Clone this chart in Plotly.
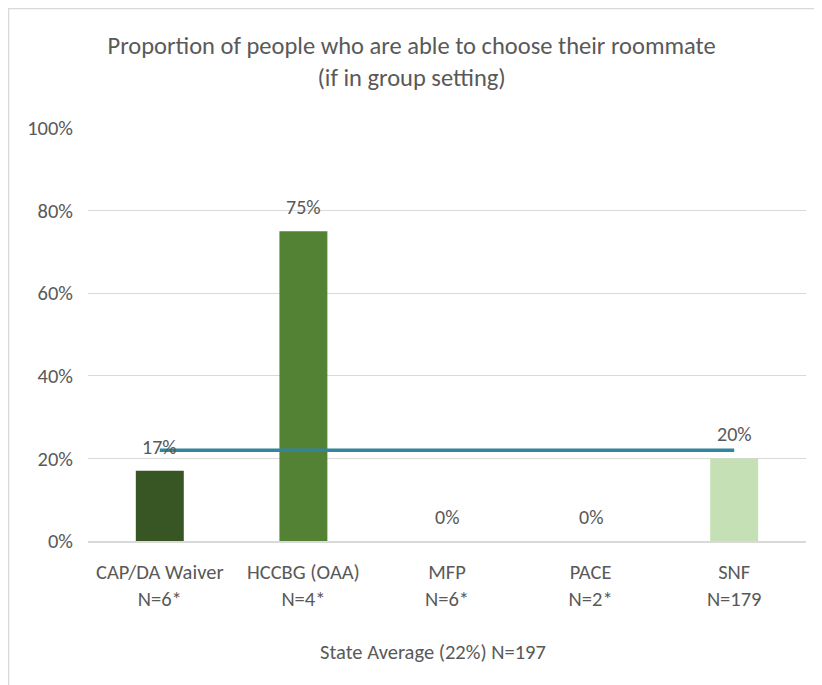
import plotly.graph_objects as go

categories = ["CAP/DA Waiver<br>N=6*", "HCCBG (OAA)<br>N=4*", "MFP<br>N=6*", "PACE<br>N=2*", "SNF<br>N=179"]
values = [17, 75, 0, 0, 20]
bar_colors = ["#375623", "#548235", "#70AD47", "#A9D18E", "#C5E0B4"]
state_avg = [22, 22, 22, 22, 22]
avg_label = "State Average (22%) N=197"
title_text = "Proportion of people who are able to choose their roommate<br>(if in group setting)"
y_ticks = [0, 20, 40, 60, 80, 100]

FONT = "Carlito, Calibri, Lato, sans-serif"
GREY = "#595959"

fig = go.Figure()
fig.add_trace(go.Bar(
    x=categories, y=values, marker=dict(color=bar_colors, line=dict(width=0)),
    showlegend=False, hoverinfo="skip",
))
fig.add_trace(go.Scatter(
    x=categories, y=state_avg, mode="lines", name=avg_label,
    line=dict(color="#31859C", width=3.5), showlegend=False,
))

for c, v in zip(categories, values):
    fig.add_annotation(x=c, y=v, text=f"{v}%", showarrow=False, yshift=24,
                       yanchor="middle", font=dict(size=20, color=GREY, family=FONT))

fig.add_annotation(x=0.4805, y=-0.2688, xref="paper", yref="paper", text=avg_label,
                   showarrow=False, xanchor="center", yanchor="middle",
                   font=dict(size=20.5, color=GREY, family=FONT))

# chart border
fig.add_shape(type="rect", xref="paper", yref="paper",
              x0=-0.1107, x1=1.1, y0=-0.5, y1=1.2893,
              line=dict(color="#D9D9D9", width=1.5), layer="below")

fig.update_layout(
    width=822, height=685,
    margin=dict(l=80, r=24, t=120, b=152),
    paper_bgcolor="white", plot_bgcolor="white",
    bargap=0.666,
    title=dict(text=title_text, x=0.491, xref="container", xanchor="center",
               y=1 - 46 / 685, yref="container", yanchor="middle",
               font=dict(size=24.5, color=GREY, family=FONT)),
    font=dict(family=FONT, color=GREY, size=20),
    xaxis=dict(showgrid=False, showline=True, linecolor="#D9D9D9", linewidth=1.5,
               tickfont=dict(size=20.5, color=GREY), ticks="", ticklabelstandoff=12,
               fixedrange=True),
    yaxis=dict(range=[0, 100], tickvals=y_ticks, ticktext=[f"{t}%" for t in y_ticks],
               showgrid=True, gridcolor="#D9D9D9", gridwidth=1, zeroline=False,
               showline=False, ticks="", ticklabelstandoff=14,
               tickfont=dict(size=20.5, color=GREY)),
)

fig.write_html("out.html")
